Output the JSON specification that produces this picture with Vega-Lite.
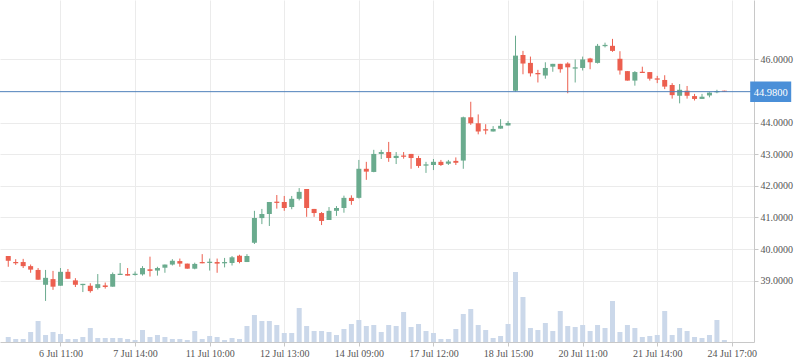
{
  "$schema": "https://vega.github.io/schema/vega-lite/v6.json",
  "width": 754,
  "height": 342,
  "autosize": "none",
  "padding": {"left": 0, "top": 0, "right": 44, "bottom": 21},
  "background": "#ffffff",
  "config": {
    "view": {"stroke": null},
    "axis": {"labelFont": "Liberation Serif", "labelFontSize": 10, "labelColor": "#555555", "gridColor": "#ebebeb", "gridWidth": 1, "domainColor": "#c8c8c8", "tickColor": "#c8c8c8", "tickSize": 4, "labelPadding": 2, "title": null}
  },
  "datasets": {
    "candles": [
      {"i":0,"o":39.78,"h":39.78,"l":39.44,"c":39.63,"v":500},
      {"i":1,"o":39.59,"h":39.68,"l":39.50,"c":39.55,"v":300},
      {"i":2,"o":39.59,"h":39.69,"l":39.40,"c":39.46,"v":300},
      {"i":3,"o":39.46,"h":39.51,"l":39.25,"c":39.35,"v":1000},
      {"i":4,"o":39.34,"h":39.40,"l":39.03,"c":39.03,"v":2100},
      {"i":5,"o":38.87,"h":39.34,"l":38.36,"c":39.09,"v":700},
      {"i":6,"o":39.05,"h":39.31,"l":38.71,"c":38.81,"v":1000},
      {"i":7,"o":38.84,"h":39.40,"l":38.84,"c":39.28,"v":800},
      {"i":8,"o":39.28,"h":39.37,"l":39.06,"c":39.06,"v":300},
      {"i":9,"o":39.01,"h":39.08,"l":38.80,"c":38.87,"v":300},
      {"i":10,"o":38.86,"h":38.90,"l":38.64,"c":38.90,"v":500},
      {"i":11,"o":38.84,"h":38.92,"l":38.62,"c":38.67,"v":1400},
      {"i":12,"o":38.77,"h":39.21,"l":38.72,"c":38.89,"v":400},
      {"i":13,"o":38.85,"h":38.94,"l":38.75,"c":38.80,"v":400},
      {"i":14,"o":38.81,"h":39.26,"l":38.81,"c":39.21,"v":400},
      {"i":15,"o":39.18,"h":39.56,"l":39.18,"c":39.22,"v":400},
      {"i":16,"o":39.21,"h":39.40,"l":39.16,"c":39.16,"v":300},
      {"i":17,"o":39.18,"h":39.29,"l":39.16,"c":39.22,"v":200},
      {"i":18,"o":39.20,"h":39.46,"l":39.16,"c":39.40,"v":1200},
      {"i":19,"o":39.36,"h":39.76,"l":39.13,"c":39.31,"v":500},
      {"i":20,"o":39.32,"h":39.44,"l":39.16,"c":39.40,"v":700},
      {"i":21,"o":39.41,"h":39.51,"l":39.25,"c":39.51,"v":500},
      {"i":22,"o":39.51,"h":39.68,"l":39.48,"c":39.63,"v":300},
      {"i":23,"o":39.62,"h":39.70,"l":39.44,"c":39.54,"v":300},
      {"i":24,"o":39.54,"h":39.54,"l":39.38,"c":39.38,"v":200},
      {"i":25,"o":39.38,"h":39.57,"l":39.36,"c":39.53,"v":1100},
      {"i":26,"o":39.59,"h":39.84,"l":39.55,"c":39.55,"v":300},
      {"i":27,"o":39.56,"h":39.70,"l":39.32,"c":39.60,"v":600},
      {"i":28,"o":39.59,"h":39.70,"l":39.25,"c":39.54,"v":500},
      {"i":29,"o":39.55,"h":39.72,"l":39.42,"c":39.59,"v":200},
      {"i":30,"o":39.56,"h":39.78,"l":39.48,"c":39.74,"v":400},
      {"i":31,"o":39.79,"h":39.82,"l":39.55,"c":39.59,"v":300},
      {"i":32,"o":39.59,"h":39.84,"l":39.59,"c":39.78,"v":1600},
      {"i":33,"o":40.20,"h":41.21,"l":40.16,"c":40.98,"v":2700},
      {"i":34,"o":40.98,"h":41.27,"l":40.79,"c":41.11,"v":2100},
      {"i":35,"o":41.11,"h":41.49,"l":40.73,"c":41.49,"v":2100},
      {"i":36,"o":41.50,"h":41.71,"l":41.28,"c":41.46,"v":1700},
      {"i":37,"o":41.49,"h":41.68,"l":41.21,"c":41.30,"v":900},
      {"i":38,"o":41.33,"h":41.68,"l":41.26,"c":41.59,"v":900},
      {"i":39,"o":41.59,"h":41.93,"l":41.54,"c":41.81,"v":3400},
      {"i":40,"o":41.90,"h":41.90,"l":41.02,"c":41.30,"v":1600},
      {"i":41,"o":41.27,"h":41.27,"l":41.02,"c":41.14,"v":1100},
      {"i":42,"o":41.14,"h":41.17,"l":40.76,"c":40.89,"v":1100},
      {"i":43,"o":40.92,"h":41.33,"l":40.92,"c":41.21,"v":1000},
      {"i":44,"o":41.21,"h":41.36,"l":41.05,"c":41.30,"v":700},
      {"i":45,"o":41.30,"h":41.69,"l":41.15,"c":41.62,"v":1300},
      {"i":46,"o":41.62,"h":41.70,"l":41.40,"c":41.52,"v":1800},
      {"i":47,"o":41.62,"h":42.82,"l":41.60,"c":42.54,"v":2200},
      {"i":48,"o":42.54,"h":42.76,"l":42.19,"c":42.45,"v":1600},
      {"i":49,"o":42.44,"h":43.14,"l":42.43,"c":43.01,"v":1700},
      {"i":50,"o":43.01,"h":43.14,"l":42.85,"c":43.07,"v":1000},
      {"i":51,"o":43.07,"h":43.39,"l":42.76,"c":42.88,"v":1700},
      {"i":52,"o":42.88,"h":43.07,"l":42.69,"c":42.95,"v":1600},
      {"i":53,"o":42.96,"h":43.07,"l":42.86,"c":42.92,"v":3000},
      {"i":54,"o":43.01,"h":43.01,"l":42.54,"c":42.88,"v":1500},
      {"i":55,"o":42.88,"h":42.95,"l":42.57,"c":42.63,"v":1800},
      {"i":56,"o":42.64,"h":42.76,"l":42.41,"c":42.68,"v":1100},
      {"i":57,"o":42.66,"h":42.85,"l":42.50,"c":42.76,"v":900},
      {"i":58,"o":42.76,"h":42.82,"l":42.63,"c":42.66,"v":300},
      {"i":59,"o":42.70,"h":42.82,"l":42.66,"c":42.77,"v":300},
      {"i":60,"o":42.79,"h":42.90,"l":42.66,"c":42.73,"v":1300},
      {"i":61,"o":42.80,"h":44.19,"l":42.54,"c":44.17,"v":2800},
      {"i":62,"o":44.17,"h":44.66,"l":43.93,"c":43.98,"v":3300},
      {"i":63,"o":43.98,"h":44.26,"l":43.63,"c":43.72,"v":1700},
      {"i":64,"o":43.79,"h":43.95,"l":43.63,"c":43.75,"v":1200},
      {"i":65,"o":43.72,"h":43.89,"l":43.72,"c":43.80,"v":400},
      {"i":66,"o":43.81,"h":44.11,"l":43.81,"c":43.90,"v":600},
      {"i":67,"o":43.91,"h":44.05,"l":43.91,"c":43.99,"v":1800},
      {"i":68,"o":45.01,"h":46.75,"l":44.98,"c":46.12,"v":7000},
      {"i":69,"o":46.14,"h":46.27,"l":45.53,"c":45.87,"v":4500},
      {"i":70,"o":45.89,"h":46.09,"l":45.46,"c":45.56,"v":1400},
      {"i":71,"o":45.57,"h":45.67,"l":45.27,"c":45.53,"v":1200},
      {"i":72,"o":45.49,"h":45.91,"l":45.39,"c":45.73,"v":1900},
      {"i":73,"o":45.77,"h":45.86,"l":45.61,"c":45.86,"v":1100},
      {"i":74,"o":45.86,"h":45.86,"l":45.58,"c":45.69,"v":3100},
      {"i":75,"o":45.87,"h":45.91,"l":44.93,"c":45.75,"v":1600},
      {"i":76,"o":45.71,"h":46.00,"l":45.27,"c":45.75,"v":1500},
      {"i":77,"o":45.73,"h":46.09,"l":45.65,"c":46.00,"v":1700},
      {"i":78,"o":46.03,"h":46.05,"l":45.69,"c":45.91,"v":1100},
      {"i":79,"o":45.89,"h":46.49,"l":45.87,"c":46.43,"v":1700},
      {"i":80,"o":46.42,"h":46.53,"l":46.38,"c":46.46,"v":1400},
      {"i":81,"o":46.43,"h":46.65,"l":46.24,"c":46.27,"v":4100},
      {"i":82,"o":46.02,"h":46.26,"l":45.52,"c":45.65,"v":1000},
      {"i":83,"o":45.63,"h":45.63,"l":45.33,"c":45.33,"v":1700},
      {"i":84,"o":45.33,"h":45.63,"l":45.17,"c":45.60,"v":1400},
      {"i":85,"o":45.61,"h":45.77,"l":45.57,"c":45.57,"v":500},
      {"i":86,"o":45.60,"h":45.60,"l":45.33,"c":45.39,"v":600},
      {"i":87,"o":45.40,"h":45.48,"l":45.25,"c":45.36,"v":700},
      {"i":88,"o":45.35,"h":45.50,"l":45.06,"c":45.14,"v":3100},
      {"i":89,"o":45.19,"h":45.25,"l":44.76,"c":44.87,"v":700},
      {"i":90,"o":44.85,"h":45.22,"l":44.61,"c":45.04,"v":1400},
      {"i":91,"o":45.01,"h":45.16,"l":44.76,"c":44.85,"v":1100},
      {"i":92,"o":44.84,"h":44.91,"l":44.70,"c":44.75,"v":500},
      {"i":93,"o":44.75,"h":44.91,"l":44.75,"c":44.82,"v":400},
      {"i":94,"o":44.86,"h":44.96,"l":44.80,"c":44.95,"v":700},
      {"i":95,"o":44.96,"h":45.04,"l":44.93,"c":45.00,"v":2200},
      {"i":96,"o":45.01,"h":45.01,"l":44.97,"c":44.98,"v":200}
    ],
    "last": [{"price": 44.98}]
  },
  "layer": [
    {
      "data": {"name": "candles"},
      "mark": {"type": "bar", "width": 5, "color": "#cbd8ea"},
      "encoding": {
        "x": {
          "field": "i", "type": "quantitative",
          "scale": {"domain": [-0.4365, 99.3], "nice": false, "zero": false},
          "axis": {
            "values": [7, 17, 27, 37, 47, 57, 67, 77, 87, 97],
            "labelExpr": "['6 Jul 11:00','7 Jul 14:00','11 Jul 10:00','12 Jul 13:00','14 Jul 09:00','17 Jul 12:00','18 Jul 15:00','20 Jul 11:00','21 Jul 14:00','24 Jul 17:00'][(datum.value - 7) / 10]",
            "grid": true, "labelFlush": false, "labelOverlap": false, "zindex": 0
          }
        },
        "y": {"field": "v", "type": "quantitative", "scale": {"domain": [0, 34200], "nice": false}, "axis": null}
      }
    },
    {
      "layer": [
        {
          "data": {"name": "candles"},
          "mark": {"type": "rule", "strokeWidth": 1},
          "encoding": {
            "x": {"field": "i", "type": "quantitative"},
            "y": {
              "field": "l", "type": "quantitative",
              "scale": {"domain": [37.06, 47.88], "nice": false, "zero": false},
              "axis": {"orient": "right", "values": [39, 40, 41, 42, 43, 44, 46], "format": ".4f", "grid": true, "zindex": 0}
            },
            "y2": {"field": "h"},
            "color": {"condition": {"test": "datum.c > datum.o", "value": "#6aab8e"}, "value": "#ec5f4f"}
          }
        },
        {
          "data": {"name": "candles"},
          "mark": {"type": "bar", "width": 5},
          "encoding": {
            "x": {"field": "i", "type": "quantitative"},
            "y": {"field": "o", "type": "quantitative"},
            "y2": {"field": "c"},
            "color": {"condition": {"test": "datum.c > datum.o", "value": "#6aab8e"}, "value": "#ec5f4f"}
          }
        },
        {
          "data": {"name": "last"},
          "mark": {"type": "rule", "color": "#4f80bb", "strokeWidth": 1},
          "encoding": {"y": {"field": "price", "type": "quantitative"}}
        },
        {
          "data": {"name": "last"},
          "mark": {"type": "point", "shape": "M-1,-0.5H1V0.5H-1Z", "size": 1681, "filled": true, "color": "#4a8fd8", "opacity": 1},
          "encoding": {
            "x": {"datum": 102.21, "type": "quantitative"},
            "y": {"field": "price", "type": "quantitative"}
          }
        },
        {
          "data": {"name": "last"},
          "mark": {"type": "text", "color": "#ffffff", "font": "Liberation Serif", "fontSize": 10.5, "align": "center", "baseline": "middle", "dy": 1},
          "encoding": {
            "x": {"datum": 102.21, "type": "quantitative"},
            "y": {"field": "price", "type": "quantitative"},
            "text": {"field": "price", "type": "quantitative", "format": ".4f"}
          }
        }
      ]
    }
  ],
  "resolve": {"scale": {"y": "independent"}}
}
